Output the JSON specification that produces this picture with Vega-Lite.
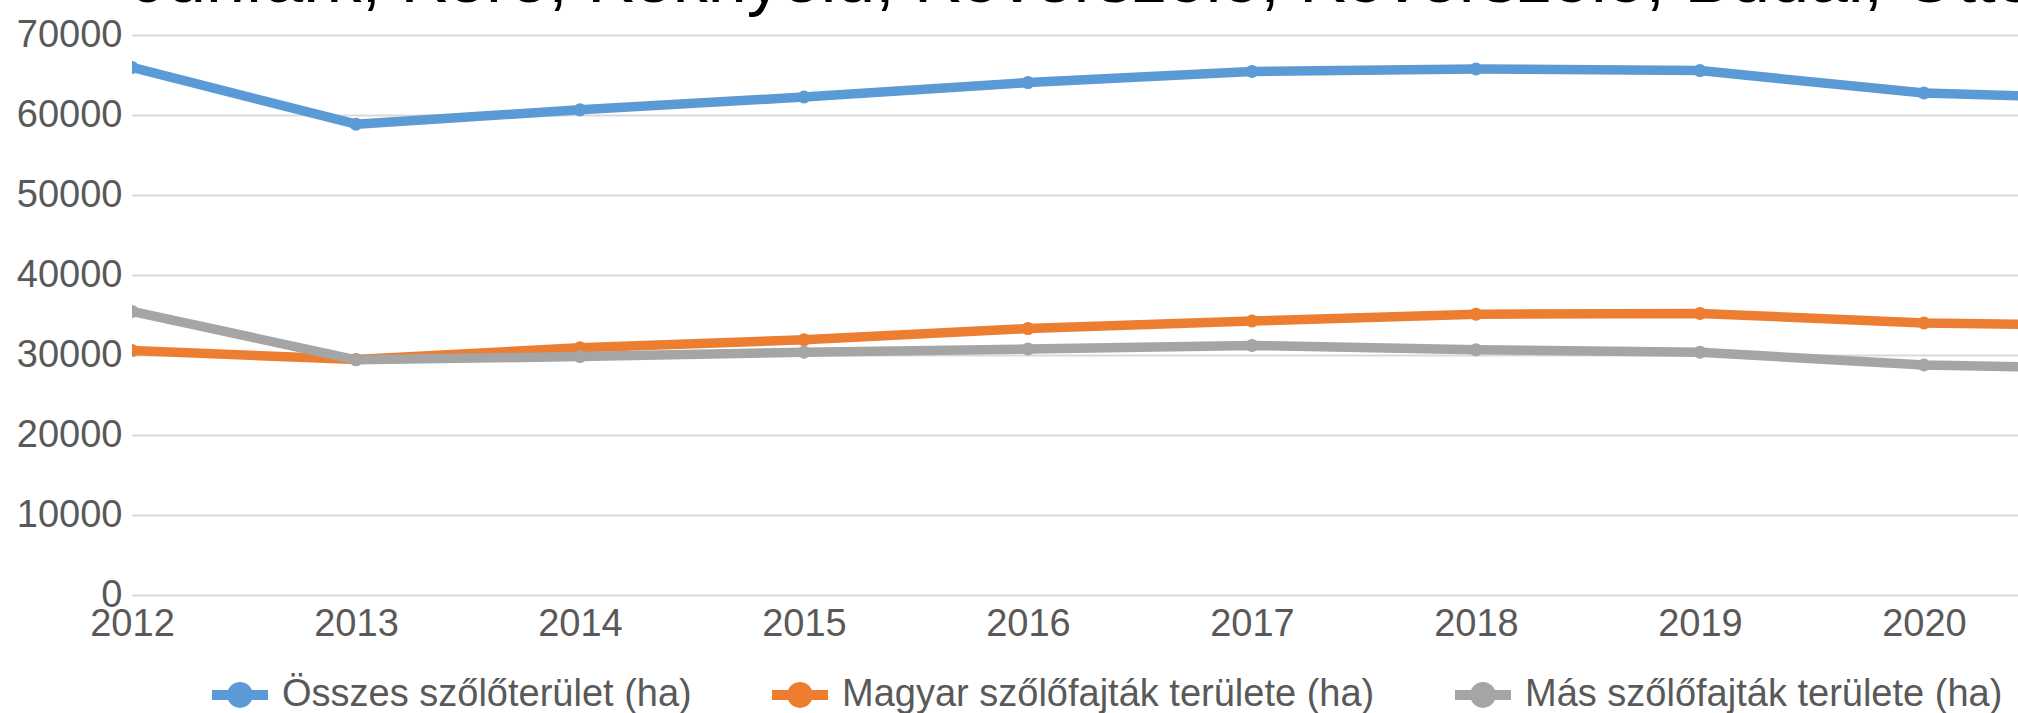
{
  "$schema": "https://vega.github.io/schema/vega-lite/v6.json",
  "width": 1886,
  "height": 560,
  "autosize": {"type": "none"},
  "padding": {"left": 132, "top": 35, "right": 0, "bottom": 118},
  "background": "white",
  "title": {
    "text": "Juhfark, Kéré, Kéknyelű, Kövérszőlő, Kövérszőlő, Budai, Ottonel muskotály",
    "anchor": "start",
    "frame": "group",
    "orient": "top",
    "offset": -56,
    "baseline": "alphabetic",
    "fontSize": 70,
    "font": "Liberation Sans",
    "fontWeight": "normal",
    "color": "#000000"
  },
  "config": {"view": {"stroke": null}},
  "data": {
    "values": [
      {"year": 2012, "series": "Összes szőlőterület (ha)", "value": 65950},
      {"year": 2013, "series": "Összes szőlőterület (ha)", "value": 58850},
      {"year": 2014, "series": "Összes szőlőterület (ha)", "value": 60650},
      {"year": 2015, "series": "Összes szőlőterület (ha)", "value": 62250},
      {"year": 2016, "series": "Összes szőlőterület (ha)", "value": 64050},
      {"year": 2017, "series": "Összes szőlőterület (ha)", "value": 65450},
      {"year": 2018, "series": "Összes szőlőterület (ha)", "value": 65750},
      {"year": 2019, "series": "Összes szőlőterület (ha)", "value": 65550},
      {"year": 2020, "series": "Összes szőlőterület (ha)", "value": 62750},
      {"year": 2021, "series": "Összes szőlőterület (ha)", "value": 61900},
      {"year": 2012, "series": "Magyar szőlőfajták területe (ha)", "value": 30550},
      {"year": 2013, "series": "Magyar szőlőfajták területe (ha)", "value": 29450},
      {"year": 2014, "series": "Magyar szőlőfajták területe (ha)", "value": 30900},
      {"year": 2015, "series": "Magyar szőlőfajták területe (ha)", "value": 31900},
      {"year": 2016, "series": "Magyar szőlőfajták területe (ha)", "value": 33300},
      {"year": 2017, "series": "Magyar szőlőfajták területe (ha)", "value": 34250},
      {"year": 2018, "series": "Magyar szőlőfajták területe (ha)", "value": 35100},
      {"year": 2019, "series": "Magyar szőlőfajták területe (ha)", "value": 35200},
      {"year": 2020, "series": "Magyar szőlőfajták területe (ha)", "value": 34000},
      {"year": 2021, "series": "Magyar szőlőfajták területe (ha)", "value": 33650},
      {"year": 2012, "series": "Más szőlőfajták területe (ha)", "value": 35450},
      {"year": 2013, "series": "Más szőlőfajták területe (ha)", "value": 29400},
      {"year": 2014, "series": "Más szőlőfajták területe (ha)", "value": 29800},
      {"year": 2015, "series": "Más szőlőfajták területe (ha)", "value": 30350},
      {"year": 2016, "series": "Más szőlőfajták területe (ha)", "value": 30750},
      {"year": 2017, "series": "Más szőlőfajták területe (ha)", "value": 31200},
      {"year": 2018, "series": "Más szőlőfajták területe (ha)", "value": 30650},
      {"year": 2019, "series": "Más szőlőfajták területe (ha)", "value": 30350},
      {"year": 2020, "series": "Más szőlőfajták területe (ha)", "value": 28750},
      {"year": 2021, "series": "Más szőlőfajták területe (ha)", "value": 28250}
    ]
  },
  "encoding": {
    "x": {
      "field": "year",
      "type": "quantitative",
      "scale": {"domain": [2012, 2020.42], "nice": false, "zero": false},
      "axis": {
        "values": [2012, 2013, 2014, 2015, 2016, 2017, 2018, 2019, 2020],
        "format": "d",
        "title": null,
        "grid": false,
        "domain": false,
        "ticks": false,
        "labelPadding": 10,
        "labelFontSize": 38,
        "labelFont": "Liberation Sans",
        "labelColor": "#595959",
        "labelFlush": false,
        "labelBound": false,
        "labelOverlap": false
      }
    },
    "y": {
      "field": "value",
      "type": "quantitative",
      "scale": {"domain": [0, 70000], "nice": false},
      "axis": {
        "values": [0, 10000, 20000, 30000, 40000, 50000, 60000, 70000],
        "format": "d",
        "title": null,
        "grid": true,
        "gridColor": "#D9D9D9",
        "gridWidth": 2,
        "domain": false,
        "ticks": false,
        "labelPadding": 10,
        "labelFontSize": 38,
        "labelFont": "Liberation Sans",
        "labelColor": "#595959",
        "labelOverlap": false,
        "labelBound": false
      }
    },
    "color": {
      "field": "series",
      "type": "nominal",
      "sort": null,
      "scale": {
        "domain": ["Összes szőlőterület (ha)", "Magyar szőlőfajták területe (ha)", "Más szőlőfajták területe (ha)"],
        "range": ["#5B9BD5", "#ED7D31", "#A5A5A5"]
      },
      "legend": {
        "orient": "none",
        "legendX": 80,
        "legendY": 632,
        "direction": "horizontal",
        "title": null,
        "symbolType": "M-1,-0.18L-0.4,-0.18L-0.4,0.18L-1,0.18Z M0.4,-0.18L1,-0.18L1,0.18L0.4,0.18Z M0.46,0A0.46,0.46 0 1,1 -0.46,0A0.46,0.46 0 1,1 0.46,0Z",
        "symbolSize": 3136,
        "symbolStrokeWidth": 0,
        "symbolOpacity": 1,
        "labelFontSize": 38,
        "labelFont": "Liberation Sans",
        "labelColor": "#595959",
        "labelOffset": 14,
        "labelLimit": 0,
        "columnPadding": 80,
        "encode": {
          "symbols": {
            "update": {
              "fill": {"scale": "color", "field": "value"},
              "strokeWidth": {"value": 0},
              "opacity": {"value": 1}
            }
          }
        }
      }
    }
  },
  "layer": [
    {"mark": {"type": "line", "strokeWidth": 9.5, "clip": true, "strokeCap": "round", "strokeJoin": "round"}},
    {"mark": {"type": "point", "filled": true, "size": 170, "opacity": 1, "clip": true}}
  ]
}
